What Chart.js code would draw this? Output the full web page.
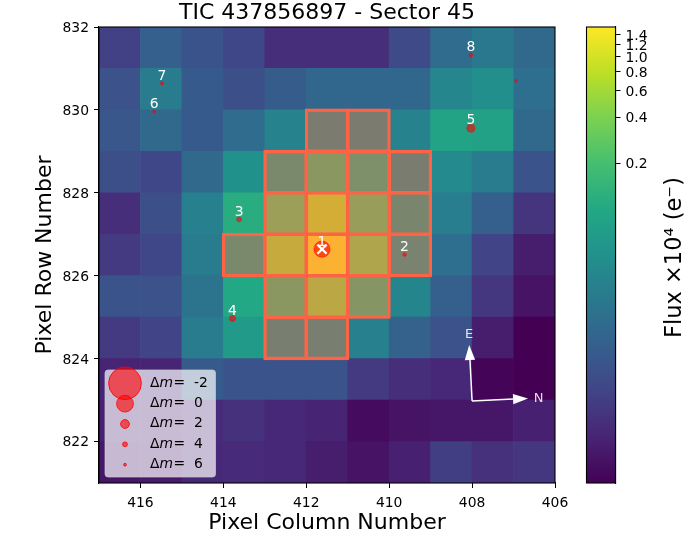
<!DOCTYPE html>
<html lang="en">
<head>
    <meta charset="UTF-8">
    <title>TIC 437856897 - Sector 45</title>
    <script src="https://cdn.jsdelivr.net/npm/chart.js@4"></script>
    <style>
        html, body { margin: 0; padding: 0; background: #fff; }
        canvas { display: block; }
    </style>
</head>
<body>
    <canvas id="tpf" width="693" height="550"></canvas>
    <script>
        const chartTitle = 'TIC 437856897 - Sector 45';
        const xLabel = 'Pixel Column Number';
        const yLabel = 'Pixel Row Number';
        const barLabel = 'Flux ×10⁴ (e⁻)';

        // pixel columns, left to right, then rows of flux (x 10^4 e-) top to bottom
        const columns = [416.5, 415.5, 414.5, 413.5, 412.5, 411.5, 410.5, 409.5, 408.5, 407.5, 406.5];
        const rowNumbers = [831, 830, 829, 828, 827, 826, 825, 824, 823, 822, 821];
        const row831 = [.00584, .0125, .0095, .00672, .00385, .00385, .00385, .0072, .0177, .0249, .0165];
        const row830 = [.0089, .0267, .0109, .0083, .0117, .0154, .0154, .0154, .0378, .0465, .019];
        const row829 = [.0102, .0165, .0109, .0177, .0329, .0405, .0405, .0329, .0864, .0807, .0165];
        const row828 = [.0083, .00672, .0165, .0496, .0807, .172, .114, .0434, .0405, .0267, .0095];
        const row827 = [.00385, .0083, .0307, .114, .261, .733, .243, .0702, .0286, .0125, .00442];
        const row826 = [.00508, .00672, .0267, .0807, .597, 1.5, .395, .0611, .019, .00627, .00273];
        const row825 = [.0095, .0089, .0218, .0991, .172, .486, .15, .0352, .0125, .00474, .00222];
        const row824 = [.00508, .00627, .0267, .0655, .0496, .0496, .0307, .0134, .0089, .00273, .00157];
        const row823 = [.00313, .00313, .0109, .0095, .0095, .0095, .00508, .00385, .00335, .00168, .00157];
        const row822 = [.00292, .00292, .0036, .00413, .00335, .00313, .00193, .00222, .00238, .00238, .00292];
        const row821 = [.00238, .00255, .00335, .0036, .00335, .00273, .00222, .00292, .00545, .00413, .00474];
        const fluxRows = [row831, row830, row829, row828, row827, row826, row825, row824, row823, row822, row821];

        // aperture pixels
        const apertureCol = [411.5, 410.5,
            412.5, 411.5, 410.5, 409.5,
            412.5, 411.5, 410.5, 409.5,
            413.5, 412.5, 411.5, 410.5, 409.5,
            412.5, 411.5, 410.5,
            412.5, 411.5];
        const apertureRow = [829, 829,
            828, 828, 828, 828,
            827, 827, 827, 827,
            826, 826, 826, 826, 826,
            825, 825, 825,
            824, 824];

        // field stars
        const starLabel = ['1', '2', '3', '4', '5', '6', '7', '8', ''];
        const starCol = [411.62, 409.63, 413.62, 413.78, 408.03, 415.67, 415.48, 408.03, 406.94];
        const starRow = [826.64, 826.51, 827.36, 824.97, 829.56, 829.96, 830.64, 831.32, 830.70];
        const starDm = [0.1, 5.0, 3.9, 3.2, 2.3, 5.7, 5.7, 5.0, 6.3];
        const legendDm = [-2, 0, 2, 4, 6];

        // colour bar
        const fluxMin = 0.00157;
        const fluxMax = 1.575;
        const barTicks = [0.2, 0.4, 0.6, 0.8, 1.0, 1.2, 1.4];

        // compass, in pixel coordinates
        const compassOrigin = [408.0, 822.98];
        const compassE = [408.07, 824.33];
        const compassN = [406.65, 823.04];

        const viridis = ['#440154', '#482475', '#414487', '#355f8d', '#2a788e', '#21918c',
            '#22a884', '#44bf70', '#7ad151', '#bddf26', '#fde725'];
        const fontName = '"DejaVu Sans", sans-serif';
        const tomato = '#ff6347';

        function hexToRgb(h) {
            return [1, 3, 5].map(i => parseInt(h.substr(i, 2), 16));
        }

        // log norm, then viridis
        function fluxColor(v) {
            let t = Math.log(v / fluxMin) / Math.log(fluxMax / fluxMin);
            t = Math.max(0, Math.min(1, t)) * (viridis.length - 1);
            const i = Math.min(Math.floor(t), viridis.length - 2);
            const a = hexToRgb(viridis[i]);
            const b = hexToRgb(viridis[i + 1]);
            const c = a.map((n, k) => Math.round(n + (b[k] - n) * (t - i)));
            return 'rgb(' + c.join(',') + ')';
        }

        function dmRadius(dm) {
            return 0.4 + 8 * Math.pow(2, -dm / 2);
        }

        const cells = [];
        const cellColors = [];
        fluxRows.forEach((row, r) => {
            row.forEach((v, c) => {
                cells.push({ x: columns[c], y: [rowNumbers[r], rowNumbers[r] + 1] });
                cellColors.push(fluxColor(v));
            });
        });

        function drawArrow(ctx, x0, y0, x1, y1) {
            const ang = Math.atan2(y1 - y0, x1 - x0);
            const headLen = 15, headHalf = 5.2;
            const bx = x1 - headLen * Math.cos(ang);
            const by = y1 - headLen * Math.sin(ang);
            ctx.beginPath();
            ctx.moveTo(x0, y0);
            ctx.lineTo(bx, by);
            ctx.stroke();
            ctx.beginPath();
            ctx.moveTo(x1, y1);
            ctx.lineTo(bx - headHalf * Math.sin(ang), by + headHalf * Math.cos(ang));
            ctx.lineTo(bx + headHalf * Math.sin(ang), by - headHalf * Math.cos(ang));
            ctx.closePath();
            ctx.fill();
        }

        // tick labels sit about a pixel lower than canvas 'middle' puts them
        function nudgeLabels(s) {
            const compute = s._computeLabelItems;
            s._computeLabelItems = area => {
                const items = compute.call(s, area);
                items.forEach(it => { it.options.translation[1] += 1.3; });
                return items;
            };
        }

        const overlay = {
            id: 'overlay',
            afterLayout(chart) {
                // colour bar axis sits right of the plot, not against it
                const s = chart.scales.cb;
                s.left += 60.5;
                s.right += 60.5;
                nudgeLabels(s);
                nudgeLabels(chart.scales.y);
            },
            afterDraw(chart) {
                const ctx = chart.ctx;
                const { left, right, top, bottom } = chart.chartArea;
                const xs = chart.scales.x, ys = chart.scales.y, cb = chart.scales.cb;

                ctx.save();
                ctx.textAlign = 'center';
                ctx.textBaseline = 'middle';

                // star numbers
                ctx.fillStyle = '#fff';
                ctx.font = '13.9px ' + fontName;
                starLabel.forEach((t, i) => {
                    if (t) ctx.fillText(t, xs.getPixelForValue(starCol[i]), ys.getPixelForValue(starRow[i]) - 7.3);
                });

                // compass
                const ox = xs.getPixelForValue(compassOrigin[0]), oy = ys.getPixelForValue(compassOrigin[1]);
                const ex = xs.getPixelForValue(compassE[0]), ey = ys.getPixelForValue(compassE[1]);
                const nx = xs.getPixelForValue(compassN[0]), ny = ys.getPixelForValue(compassN[1]);
                ctx.strokeStyle = '#fff';
                ctx.fillStyle = '#fff';
                ctx.lineWidth = 1.5;
                drawArrow(ctx, ox, oy, ex, ey);
                drawArrow(ctx, ox, oy, nx, ny);
                ctx.font = '13px ' + fontName;
                ctx.fillStyle = 'rgba(255,255,255,0.85)';
                ctx.fillText('E', ex, ey - 10.7);
                ctx.fillText('N', nx + 10.5, ny - 0.2);

                // legend
                ctx.beginPath();
                ctx.roundRect(left + 6, top + 343, 110.5, 107, 3);
                ctx.fillStyle = 'rgba(255,255,255,0.7)';
                ctx.fill();
                ctx.strokeStyle = 'rgba(204,204,204,0.7)';
                ctx.lineWidth = 1;
                ctx.stroke();
                legendDm.forEach((dm, i) => {
                    const cy = top + 356.3 + i * 20.35;
                    ctx.beginPath();
                    ctx.arc(left + 26, cy, dmRadius(dm), 0, Math.PI * 2);
                    ctx.fillStyle = 'rgba(255,0,0,0.6)';
                    ctx.fill();
                    ctx.strokeStyle = 'rgba(255,0,0,0.8)';
                    ctx.lineWidth = 1;
                    ctx.stroke();
                    // delta m label, m in italic
                    let tx = left + 51;
                    const ty = top + 356 + i * 20.4;
                    ctx.fillStyle = '#000';
                    ctx.textAlign = 'left';
                    ctx.font = '13.9px ' + fontName;
                    ctx.fillText('Δ', tx, ty);
                    tx += ctx.measureText('Δ').width;
                    ctx.font = 'italic 13.9px ' + fontName;
                    ctx.fillText('m', tx, ty);
                    ctx.font = '13.9px ' + fontName;
                    ctx.fillText('=', left + 74.5, ty);
                    ctx.fillText(String(dm), left + 95, ty);
                    ctx.textAlign = 'center';
                });

                // plot frame
                ctx.strokeStyle = '#000';
                ctx.lineWidth = 1.1;
                ctx.strokeRect(left, top, right - left, bottom - top);

                // colour bar
                const barL = cb.left - 29, barR = cb.left;
                const barTop = cb.getPixelForValue(fluxMax), barBot = cb.getPixelForValue(fluxMin);
                const grad = ctx.createLinearGradient(0, barBot, 0, barTop);
                viridis.forEach((c, i) => grad.addColorStop(i / (viridis.length - 1), c));
                ctx.fillStyle = grad;
                ctx.fillRect(barL, barTop, barR - barL, barBot - barTop);
                ctx.strokeRect(barL, barTop, barR - barL, barBot - barTop);

                // colour bar label
                ctx.translate(675, 257.5);
                ctx.rotate(-Math.PI / 2);
                ctx.fillStyle = '#000';
                ctx.font = '22.5px ' + fontName;
                ctx.fillText(barLabel, 0, 0);
                ctx.restore();
            }
        };

        new Chart(document.getElementById('tpf'), {
            type: 'scatter',
            data: {
                datasets: [
                    {
                        // target cross
                        data: [{ x: starCol[0], y: starRow[0] }],
                        pointStyle: 'crossRot',
                        pointRadius: 6.5,
                        pointBorderColor: '#fff',
                        pointBorderWidth: 2.2,
                        order: 1
                    },
                    {
                        // field stars
                        data: starCol.map((x, i) => ({ x: x, y: starRow[i] })),
                        pointRadius: starDm.map(dmRadius),
                        pointBackgroundColor: 'rgba(255,0,0,0.6)',
                        pointBorderColor: 'rgba(255,0,0,0.6)',
                        pointBorderWidth: 0.8,
                        order: 2
                    },
                    {
                        // aperture mask, border straddles the pixel edges
                        type: 'bar',
                        data: apertureCol.map((x, i) => ({ x: x, y: [apertureRow[i], apertureRow[i] + 1] })),
                        backgroundColor: 'rgba(255,99,71,0.4)',
                        borderColor: tomato,
                        borderWidth: 0.3,
                        borderSkipped: false,
                        inflateAmount: 1.5,
                        grouped: false,
                        barPercentage: 1,
                        categoryPercentage: 1,
                        order: 3
                    },
                    {
                        // flux image
                        type: 'bar',
                        data: cells,
                        backgroundColor: cellColors,
                        grouped: false,
                        barPercentage: 1,
                        categoryPercentage: 1,
                        order: 4
                    }
                ]
            },
            options: {
                responsive: false,
                animation: false,
                events: [],
                plugins: {
                    legend: { display: false },
                    tooltip: { enabled: false },
                    title: {
                        display: true,
                        text: chartTitle,
                        fullSize: false,
                        color: '#000',
                        font: { family: fontName, size: 22, weight: 'normal', lineHeight: 1.2 },
                        padding: { top: 0, bottom: 0.6 }
                    }
                },
                scales: {
                    x: {
                        type: 'linear',
                        reverse: true,
                        min: 406,
                        max: 417,
                        offset: false,
                        afterFit: s => { s.height = 67; },
                        grid: { offset: false, drawOnChartArea: false, tickLength: 5, tickColor: '#000' },
                        border: { color: '#000', width: 1.1 },
                        ticks: {
                            stepSize: 2,
                            includeBounds: false,
                            maxRotation: 0,
                            padding: 7,
                            color: '#000',
                            font: { family: fontName, size: 13.9 },
                            callback: v => String(v)
                        },
                        title: {
                            display: true,
                            text: xLabel,
                            color: '#000',
                            font: { family: fontName, size: 22 },
                            padding: { top: 0, bottom: 13.5 }
                        }
                    },
                    y: {
                        type: 'linear',
                        min: 821,
                        max: 832,
                        afterFit: s => { s.width = 99; },
                        grid: { drawOnChartArea: false, tickLength: 5, tickColor: '#000' },
                        border: { color: '#000', width: 1.1 },
                        ticks: {
                            stepSize: 2,
                            includeBounds: false,
                            padding: 5,
                            color: '#000',
                            font: { family: fontName, size: 13.9 },
                            callback: v => String(v)
                        },
                        title: {
                            display: true,
                            text: yLabel,
                            color: '#000',
                            font: { family: fontName, size: 22 },
                            padding: { top: 32.4, bottom: 0 }
                        }
                    },
                    cb: {
                        axis: 'y',
                        type: 'logarithmic',
                        position: 'right',
                        min: fluxMin,
                        max: fluxMax,
                        afterFit: s => { s.width = 138; },
                        afterBuildTicks: s => { s.ticks = barTicks.map(v => ({ value: v })); },
                        grid: { drawOnChartArea: false, tickLength: 5, tickColor: '#000' },
                        border: { color: '#000', width: 1.1 },
                        ticks: {
                            autoSkip: false,
                            padding: 5,
                            color: '#000',
                            font: { family: fontName, size: 13.9 },
                            callback: v => v.toFixed(1)
                        }
                    }
                }
            },
            plugins: [overlay]
        });
    </script>
</body>
</html>
